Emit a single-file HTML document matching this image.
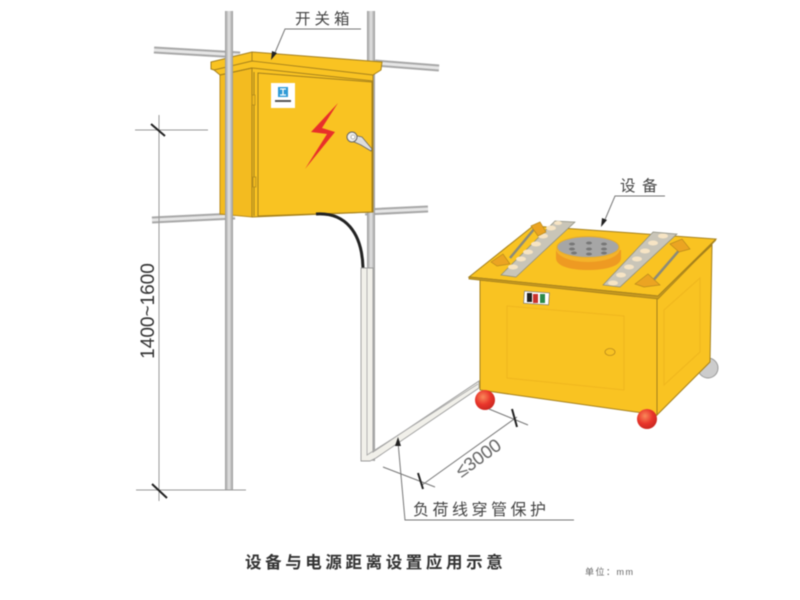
<!DOCTYPE html>
<html><head><meta charset="utf-8"><style>
html,body{margin:0;padding:0;background:#fff}
svg{display:block;filter:blur(.4px)}
text{font-family:"Liberation Sans","Noto Sans CJK SC",sans-serif;fill:#444}
</style></head><body>
<svg width="800" height="600" viewBox="0 0 800 600" xmlns="http://www.w3.org/2000/svg">
<defs>
<linearGradient id="p" x1="0" x2="1" y1="0" y2="0"><stop offset="0" stop-color="#999"/><stop offset=".5" stop-color="#e4e4e4"/><stop offset="1" stop-color="#999"/></linearGradient>
<radialGradient id="r" cx=".4" cy=".35" r=".7"><stop offset="0" stop-color="#f98a5a"/><stop offset=".55" stop-color="#e9352b"/><stop offset="1" stop-color="#c7261f"/></radialGradient>
</defs>
<!-- horizontal tubes -->
<g fill="none" stroke-linecap="butt">
<path d="M154 50L240 55" stroke="#a8a8a8" stroke-width="7"/><path d="M154 50L240 55" stroke="#e6e6e6" stroke-width="3"/>
<path d="M375 63L439 68" stroke="#a8a8a8" stroke-width="7"/><path d="M375 63L439 68" stroke="#e6e6e6" stroke-width="3"/>
<path d="M152 220L235 216" stroke="#a8a8a8" stroke-width="7"/><path d="M152 220L235 216" stroke="#e6e6e6" stroke-width="3"/>
<path d="M365 212L428 209" stroke="#a8a8a8" stroke-width="7"/><path d="M365 212L428 209" stroke="#e6e6e6" stroke-width="3"/>
</g>
<!-- right pole -->
<rect x="367" y="11" width="8" height="450" fill="url(#p)"/>
<!-- box -->
<path d="M220 73L252 66V217L220 214Z" fill="#f3bb20" stroke="#b78a1c"/>
<path d="M252 66L373 78V212L252 217Z" fill="#f9c322" stroke="#a5801c"/>
<path d="M258 73L372 82V212L258 216Z" fill="#f9c322" stroke="#a5801c"/>
<path d="M254 72V216" stroke="#a5801c" fill="none"/>
<rect x="252" y="95" width="3" height="10" fill="#eeb820" stroke="#a5801c" stroke-width=".6"/>
<rect x="253" y="177" width="3" height="10" fill="#eeb820" stroke="#a5801c" stroke-width=".6"/>
<!-- roof -->
<path d="M211 62L252 52L382 62L381 70L373 75L373 81L252 68L220 75L214 70L211 69Z" fill="#f9c322" stroke="#a5801c"/>
<path d="M214 70L252 61L373 75M252 52V61M220 75L252 68" fill="none" stroke="#a5801c" stroke-width=".9"/>
<!-- logo -->
<rect x="271" y="83" width="24" height="25" fill="#fff"/>
<rect x="278" y="87" width="10" height="10" fill="#2f9ad6"/>
<path d="M280 89H286M283 89V95M280 95H286" stroke="#fff" stroke-width="1.2"/>
<rect x="275" y="100" width="16" height="2" fill="#555"/>
<!-- bolt -->
<path d="M338 103L311 132L327 134L305 169L335 132L322 128Z" fill="#e8302a"/>
<!-- handle -->
<path d="M353 135L362 137L372 149L371 151L361 145L352 141Z" fill="#ddd" stroke="#666" stroke-width=".8"/>
<circle cx="352" cy="137" r="5" fill="#eee" stroke="#666"/><circle cx="353" cy="137" r="2" fill="#fff" stroke="#888" stroke-width=".6"/>
<!-- left pole front -->
<rect x="225" y="11" width="8" height="479" fill="url(#p)"/>
<!-- cable -->
<path d="M316 214C345 212 362 232 363 268" fill="none" stroke="#222" stroke-width="3"/>
<!-- conduit -->
<path d="M361 268H373V452L479 381V388L376 458L370 461H361Z" fill="#f1f0ea" stroke="#9a9a9a" stroke-width=".9"/>
<path d="M367 268V455L478 384" fill="none" stroke="#aaa" stroke-width=".9"/>
<!-- dims left -->
<g stroke="#999" stroke-width="1" fill="none">
<path d="M159 115V501M135 130H208M136 490H246"/>
</g>
<path d="M151 124L165 136M152 484L167 498" stroke="#222" stroke-width="2"/>
<text transform="translate(154,311) rotate(-90)" font-size="19" text-anchor="middle" style="fill:#333">1400~1600</text>
<!-- machine -->
<circle cx="708" cy="368" r="10" fill="#ccc" stroke="#999"/>
<path d="M480 280L657 297V415L480 390Z" fill="#f9c322" stroke="#a5801c"/>
<path d="M657 297L712 245L710 362L657 415Z" fill="#f9c322" stroke="#a5801c"/>
<path d="M507 306L624 316V390L507 378Z" fill="none" stroke="#efb61e"/>
<path d="M664 310L700 278V352L664 385Z" fill="none" stroke="#efb61e"/>
<path d="M469 277L533 226L716 239L658 296Z" fill="#f9c322" stroke="#a5801c"/>
<path d="M469 277L469 279L658 299L716 240L658 296Z" fill="#c79a20" stroke="#a5801c" stroke-width=".8"/>
<!-- turntable -->
<path d="M556 250V258C556 266 570 270 588 270S621 266 621 258V250Z" fill="#ee9a22"/>
<ellipse cx="588" cy="249" rx="32" ry="13" fill="#f4b32a"/>
<ellipse cx="588" cy="247" rx="31" ry="10.500" fill="#a6a6a6" stroke="#e8ad28"/>
<g fill="#777"><ellipse cx="572" cy="244" rx="3" ry="1.500"/><ellipse cx="589" cy="243" rx="3" ry="1.500"/><ellipse cx="604" cy="244" rx="3" ry="1.500"/><ellipse cx="572" cy="249" rx="3" ry="1.500"/><ellipse cx="589" cy="249" rx="3" ry="1.500"/><ellipse cx="604" cy="249" rx="3" ry="1.500"/><ellipse cx="574" cy="253" rx="3" ry="1.500"/><ellipse cx="589" cy="254" rx="3" ry="1.500"/><ellipse cx="604" cy="253" rx="3" ry="1.500"/></g>
<!-- plates -->
<path d="M501 275L555 221L575 222L516 277Z" fill="#c9c5b8" stroke="#8a8a7a" stroke-width=".7"/>
<path d="M603 285L653 232L677 234L620 287Z" fill="#c9c5b8" stroke="#8a8a7a" stroke-width=".7"/>
<g fill="#f6e4c4">
<ellipse cx="513" cy="267" rx="5" ry="2.500"/><ellipse cx="521" cy="259" rx="5" ry="2.500"/><ellipse cx="528" cy="252" rx="5" ry="2.500"/><ellipse cx="536" cy="244" rx="5" ry="2.500"/><ellipse cx="543" cy="236" rx="5" ry="2.500"/><ellipse cx="551" cy="228" rx="5" ry="2.500"/><ellipse cx="558" cy="223" rx="4" ry="2"/>
<ellipse cx="613" cy="283" rx="5" ry="2.500"/><ellipse cx="621" cy="275" rx="5" ry="2.500"/><ellipse cx="629" cy="267" rx="5" ry="2.500"/><ellipse cx="637" cy="259" rx="5" ry="2.500"/><ellipse cx="645" cy="251" rx="5" ry="2.500"/><ellipse cx="653" cy="243" rx="5" ry="2.500"/><ellipse cx="663" cy="236" rx="5" ry="2.500"/>
</g>
<!-- handles -->
<path d="M510 258L535 228" stroke="#8a8a7a" stroke-width="2.500"/>
<path d="M651 283L682 247" stroke="#8a8a7a" stroke-width="2.500"/>
<path d="M491 262L503 254L510 264L497 266Z" fill="#eba422" stroke="#b98a1c" stroke-width=".7"/>
<path d="M531 226L540 222L546 232L538 236Z" fill="#eba422" stroke="#b98a1c" stroke-width=".7"/>
<path d="M635 284L648 274L660 285L644 287Z" fill="#eba422" stroke="#b98a1c" stroke-width=".7"/>
<path d="M670 244L682 239L690 249L679 252Z" fill="#eba422" stroke="#b98a1c" stroke-width=".7"/>
<!-- switch panel -->
<rect x="524" y="292" width="25" height="12" fill="#fff" stroke="#777" stroke-width=".7" transform="rotate(4 536 298)"/>
<rect x="527" y="293" width="5" height="9" fill="#222"/><rect x="533" y="294" width="5" height="9" fill="#c8322d"/><rect x="540" y="294" width="5" height="9" fill="#2b8a4a"/>
<ellipse cx="610" cy="352" rx="5" ry="3.500" fill="#f9c322" stroke="#b98a1c" stroke-width=".8"/>
<!-- wheels -->
<circle cx="485" cy="400" r="10" fill="url(#r)"/>
<circle cx="647" cy="419" r="10" fill="url(#r)"/>
<!-- leaders -->
<g fill="none" stroke="#777" stroke-width="1">
<path d="M361 29H285L274 55"/>
<path d="M665 196H615L604 222"/>
<path d="M398 442L405 520H574"/>
<path d="M422 485L517 417M383 467L435 487M489 409L528 425"/>
</g>
<path d="M271 60L272 51L277 53Z M601 227L602 218L607 220Z M398 437L395 446L401 446Z" fill="#222"/>
<path d="M418 473L423 489M512 409L517 427" stroke="#222" stroke-width="2"/>
<!-- labels -->
<text x="295" y="24" font-size="15.500" letter-spacing="4">开关箱</text>
<text x="620" y="191" font-size="15.500" letter-spacing="6.500">设备</text>
<text transform="translate(482,463) rotate(-36)" font-size="18.500" text-anchor="middle" style="fill:#666">≤3000</text>
<text x="413" y="515" font-size="16" letter-spacing="3.500">负荷线穿管保护</text>
<text x="245" y="568" font-size="16.500" font-weight="700" letter-spacing="3.600" style="fill:#333">设备与电源距离设置应用示意</text>
<text x="585" y="575" font-size="9" letter-spacing="1.500" style="fill:#666">单位：mm</text>
</svg>
</body></html>
